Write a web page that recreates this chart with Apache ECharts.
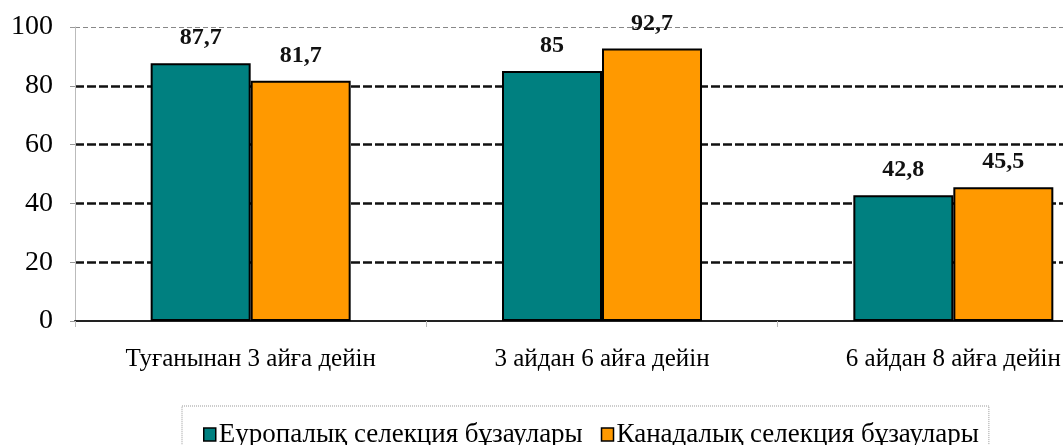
<!DOCTYPE html>
<html>
<head>
<meta charset="utf-8">
<script src="https://cdn.jsdelivr.net/npm/echarts@6/dist/echarts.min.js"></script>
<style>
  html, body { margin: 0; padding: 0; background: #fff; }
  #chart { width: 1063px; height: 445px; }
</style>
</head>
<body>
<div id="chart"></div>
<script>
// Categories (age periods) and the two calf groups
const categories = ['Туғанынан 3 айға дейін', '3 айдан 6 айға дейін', '6 айдан 8 айға дейін'];
const seriesNames = ['Еуропалық селекция бұзаулары', 'Канадалық селекция бұзаулары'];
const europeanValues = [87.7, 85, 42.8];
const canadianValues = [81.7, 92.7, 45.5];
const yTicks = [0, 20, 40, 60, 80, 100];

const serif = "'Liberation Serif', 'Times New Roman', serif";
const fmt = v => String(v).replace('.', ',');

const chart = echarts.init(document.getElementById('chart'));

function barSeries(name, data, color) {
  return {
    name: name,
    type: 'bar',
    data: data,
    barWidth: 100,
    barGap: '0%',
    itemStyle: { color: color, borderColor: '#000', borderWidth: 2 },
    label: {
      show: true,
      position: 'top',
      distance: 13,
      formatter: p => fmt(p.value),
      fontFamily: serif,
      fontWeight: 'bold',
      fontSize: 24,
      color: '#111'
    },
    z: 3
  };
}

chart.setOption({
  animation: false,
  backgroundColor: '#fff',
  // plot area runs past the right edge of the canvas
  grid: { left: 75, top: 27, width: 1054, height: 294, containLabel: false, outerBoundsMode: 'none' },
  legend: {
    data: seriesNames,
    left: 182,
    top: 406,
    orient: 'horizontal',
    padding: [15, 10, 14, 21],
    itemWidth: 12,
    itemHeight: 13,
    itemGap: 18,
    icon: 'rect',
    borderColor: '#999',
    borderWidth: 1,
    borderType: 'dotted',
    itemStyle: { borderColor: '#000', borderWidth: 1.5 },
    textStyle: { fontFamily: serif, fontSize: 27, color: '#000', padding: [0, 0, 0, -2] }
  },
  xAxis: {
    type: 'category',
    data: categories,
    axisLine: { show: true, lineStyle: { color: '#222', width: 2 } },
    axisTick: { show: true, length: 6, lineStyle: { color: '#bbb', width: 1 } },
    axisLabel: { fontFamily: serif, fontSize: 25, color: '#000', margin: 26 },
    splitLine: { show: false }
  },
  yAxis: [
    {
      type: 'value',
      min: 0,
      max: 100,
      interval: 20,
      axisLine: { show: true, lineStyle: { color: '#bbb', width: 1 } },
      axisTick: { show: true, length: 5, lineStyle: { color: '#999' } },
      axisLabel: {
        fontFamily: serif, fontSize: 28, color: '#000', margin: 22,
        formatter: v => (yTicks.includes(v) ? String(v) : '')
      },
      splitLine: {
        show: true,
        lineStyle: {
          color: ['rgba(0,0,0,0)', '#111', '#111', '#111', '#111', 'rgba(0,0,0,0)'],
          width: 2.6,
          type: [9, 3]
        }
      }
    },
    {
      // thin grey top border line at 100
      type: 'value',
      min: 0,
      max: 100,
      interval: 100,
      position: 'left',
      axisLine: { show: false },
      axisTick: { show: false },
      axisLabel: { show: false },
      splitLine: { show: true, lineStyle: { color: '#888', width: 1, type: [5, 3] } }
    }
  ],
  series: [
    barSeries(seriesNames[0], europeanValues, '#008080'),
    barSeries(seriesNames[1], canadianValues, '#FF9900')
  ]
});
</script>
</body>
</html>
